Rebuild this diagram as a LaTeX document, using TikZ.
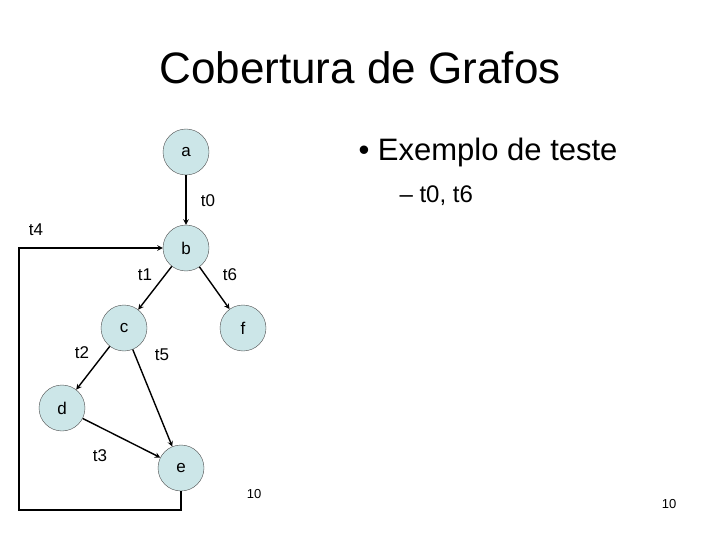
\documentclass[tikz,border=0pt]{standalone}
\usepackage{fontspec}
\setmainfont{Liberation Sans}
\definecolor{nodefill}{RGB}{204,230,232}
\begin{document}
\begin{tikzpicture}[x=1pt,y=-1pt,
  vert/.style={circle,draw=black!70,fill=nodefill,minimum size=46pt,inner sep=0pt,font=\fontsize{17}{20}\selectfont},
  lab/.style={font=\fontsize{17}{20}\selectfont},
  arr/.style={->,>=stealth,line width=1.4pt}]
\useasboundingbox (0,0) rectangle (720,540);
\node[font=\fontsize{44}{50}\selectfont] (title) at (360,68) {Cobertura de Grafos};
\node[font=\fontsize{31}{36}\selectfont,anchor=west] (b1) at (355,152) {• Exemplo de teste};
\node[font=\fontsize{24}{28}\selectfont,anchor=west] (b2) at (396,196) {– t0, t6};
\node[vert] (a) at (186,152) {a};
\node[vert] (b) at (186,248) {b};
\node[vert] (c) at (124,328) {c};
\node[vert] (f) at (243,328) {f};
\node[vert] (d) at (62,408) {d};
\node[vert] (e) at (181,468) {e};
\draw[arr] (a) -- (b);
\draw[arr] (b) -- (c);
\draw[arr] (b) -- (f);
\draw[arr] (c) -- (d);
\draw[arr] (d) -- (e);
\draw[arr] (c) -- (e);
\draw[arr] (e.south) |- (19,510) |- (b.west);
\node[lab] (l0) at (208,201) {t0};
\node[lab] (l4) at (36,230) {t4};
\node[lab] (l1) at (145,275) {t1};
\node[lab] (l6) at (230,275) {t6};
\node[lab] (l2) at (82,353) {t2};
\node[lab] (l5) at (162,355) {t5};
\node[lab] (l3) at (100,456) {t3};
\node[font=\fontsize{13}{15}\selectfont] (n1) at (254,494) {10};
\node[font=\fontsize{13}{15}\selectfont] (n2) at (669,504) {10};
\end{tikzpicture}
\end{document}
